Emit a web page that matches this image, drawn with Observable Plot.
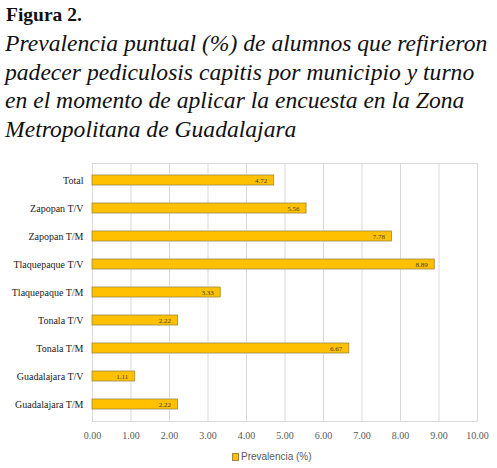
<!DOCTYPE html>
<html><head><meta charset="utf-8">
<script src="https://cdn.jsdelivr.net/npm/d3@7"></script>
<script src="https://cdn.jsdelivr.net/npm/@observablehq/plot@0.6"></script>
<style>
body{margin:0;background:#fff;width:497px;height:468px;overflow:hidden;font-family:"Liberation Serif",serif;position:relative}
#title{position:absolute;left:6px;top:3px;font-weight:bold;font-size:19.5px;color:#111;line-height:24px}
#sub{position:absolute;left:5px;top:29px;font-family:"Liberation Serif","Times New Roman",serif;font-style:italic;font-size:23.6px;line-height:28.7px;color:#111;white-space:nowrap}
#chart{position:absolute;left:0;top:150px}
#chart svg{display:block}
#legend{position:absolute;top:450px;left:232px;font-family:"Liberation Sans",sans-serif;font-size:10px;color:#595959;display:flex;align-items:center;gap:2px;line-height:14px}
#legend .sw{display:inline-block;width:5px;height:6px;background:#FFC000;border:1px solid #9e8a3a}
</style>
</head><body>
<div id="title">Figura 2.</div>
<div id="sub">Prevalencia puntual (%) de alumnos que refirieron<br>padecer pediculosis capitis por municipio y turno<br>en el momento de aplicar la encuesta en la Zona<br>Metropolitana de Guadalajara</div>
<div id="chart"></div>
<div id="legend"><span class="sw"></span><span>Prevalencia (%)</span></div>
<script>
const categories = ["Total","Zapopan T/V","Zapopan T/M","Tlaquepaque T/V","Tlaquepaque T/M","Tonala T/V","Tonala T/M","Guadalajara T/V","Guadalajara T/M"];
const values = [4.72,5.56,7.78,8.89,3.33,2.22,6.67,1.11,2.22];
const xTicks = [0,1,2,3,4,5,6,7,8,9,10];
const data = categories.map((c,i)=>({category:c, value:values[i]}));
const fmt = d => d.toFixed(2);
const chart = Plot.plot({
  width:497, height:300,
  marginLeft:92, marginRight:20, marginTop:13, marginBottom:29,
  x:{domain:[0,10], label:null},
  y:{domain:categories, paddingInner:0.63, paddingOuter:0.315, label:null},
  style:{fontFamily:"Liberation Serif, serif", fontSize:"10px", color:"#333", background:"white", overflow:"visible"},
  marks:[
    Plot.gridX(xTicks,{stroke:"#d9d9d9", strokeOpacity:1}),
    Plot.frame({stroke:"#d9d9d9"}),
    Plot.barX(data,{x:"value", y:"category", fill:"#FFC000", stroke:"#9e8a3a", strokeWidth:0.8}),
    Plot.text(data,{x:"value", y:"category", text:d=>fmt(d.value), textAnchor:"end", dx:-7, fontSize:7, fill:"#404040"}),
    Plot.axisX({ticks:xTicks, tickFormat:fmt, tickSize:0, tickPadding:10, fill:"#595959", fontSize:10, label:null}),
    Plot.axisY({tickSize:0, tickPadding:9, fill:"#222", fontSize:10, label:null})
  ]
});
document.getElementById("chart").appendChild(chart);
</script>
</body></html>
